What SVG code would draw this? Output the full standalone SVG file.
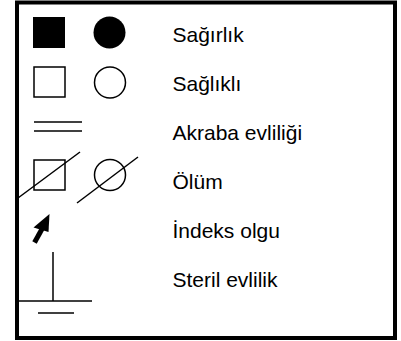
<svg xmlns="http://www.w3.org/2000/svg" width="401" height="341" viewBox="0 0 401 341">
<style>
.t{font-family:"Liberation Sans",Arial,sans-serif;font-size:21px;fill:#000}
.o{fill:none;stroke:#000;stroke-width:1.5}
.f{fill:#000;stroke:none}
</style>
<rect width="401" height="341" fill="#fff"/>
<rect id="frame" x="17" y="2.5" width="378" height="335.5" fill="none" stroke="#000" stroke-width="4"/>
<g id="sagirlik">
<rect class="f" x="33" y="17" width="32" height="31"/>
<circle class="f" cx="109.5" cy="32.5" r="16"/>
<text class="t" x="172.5" y="42">Sağırlık</text>
</g>
<g id="saglikli">
<rect class="o" x="34" y="67" width="31" height="30"/>
<circle class="o" cx="110" cy="82.5" r="15.5"/>
<text class="t" x="172.5" y="91">Sağlıklı</text>
</g>
<g id="akraba">
<line class="o" x1="34" y1="122" x2="82" y2="122"/>
<line class="o" x1="34" y1="131" x2="82" y2="131"/>
<text class="t" x="172.5" y="140">Akraba evliliği</text>
</g>
<g id="olum">
<rect class="o" x="34" y="160" width="31" height="30"/>
<line class="o" x1="18" y1="198" x2="80" y2="152"/>
<circle class="o" cx="110" cy="175" r="15.5"/>
<line class="o" x1="77" y1="203" x2="138" y2="157"/>
<text class="t" x="172.5" y="189">Ölüm</text>
</g>
<g id="indeks">
<line x1="34.5" y1="242.5" x2="42" y2="229" stroke="#000" stroke-width="5"/>
<polygon class="f" points="49.5,214 33.5,227.5 48.5,232"/>
<text class="t" x="172.5" y="238">İndeks olgu</text>
</g>
<g id="steril">
<line class="o" x1="53" y1="252" x2="53" y2="301"/>
<line class="o" x1="18" y1="301" x2="92" y2="301"/>
<line class="o" x1="38" y1="313" x2="74" y2="313"/>
<text class="t" x="172.5" y="287">Steril evlilik</text>
</g>
</svg>
